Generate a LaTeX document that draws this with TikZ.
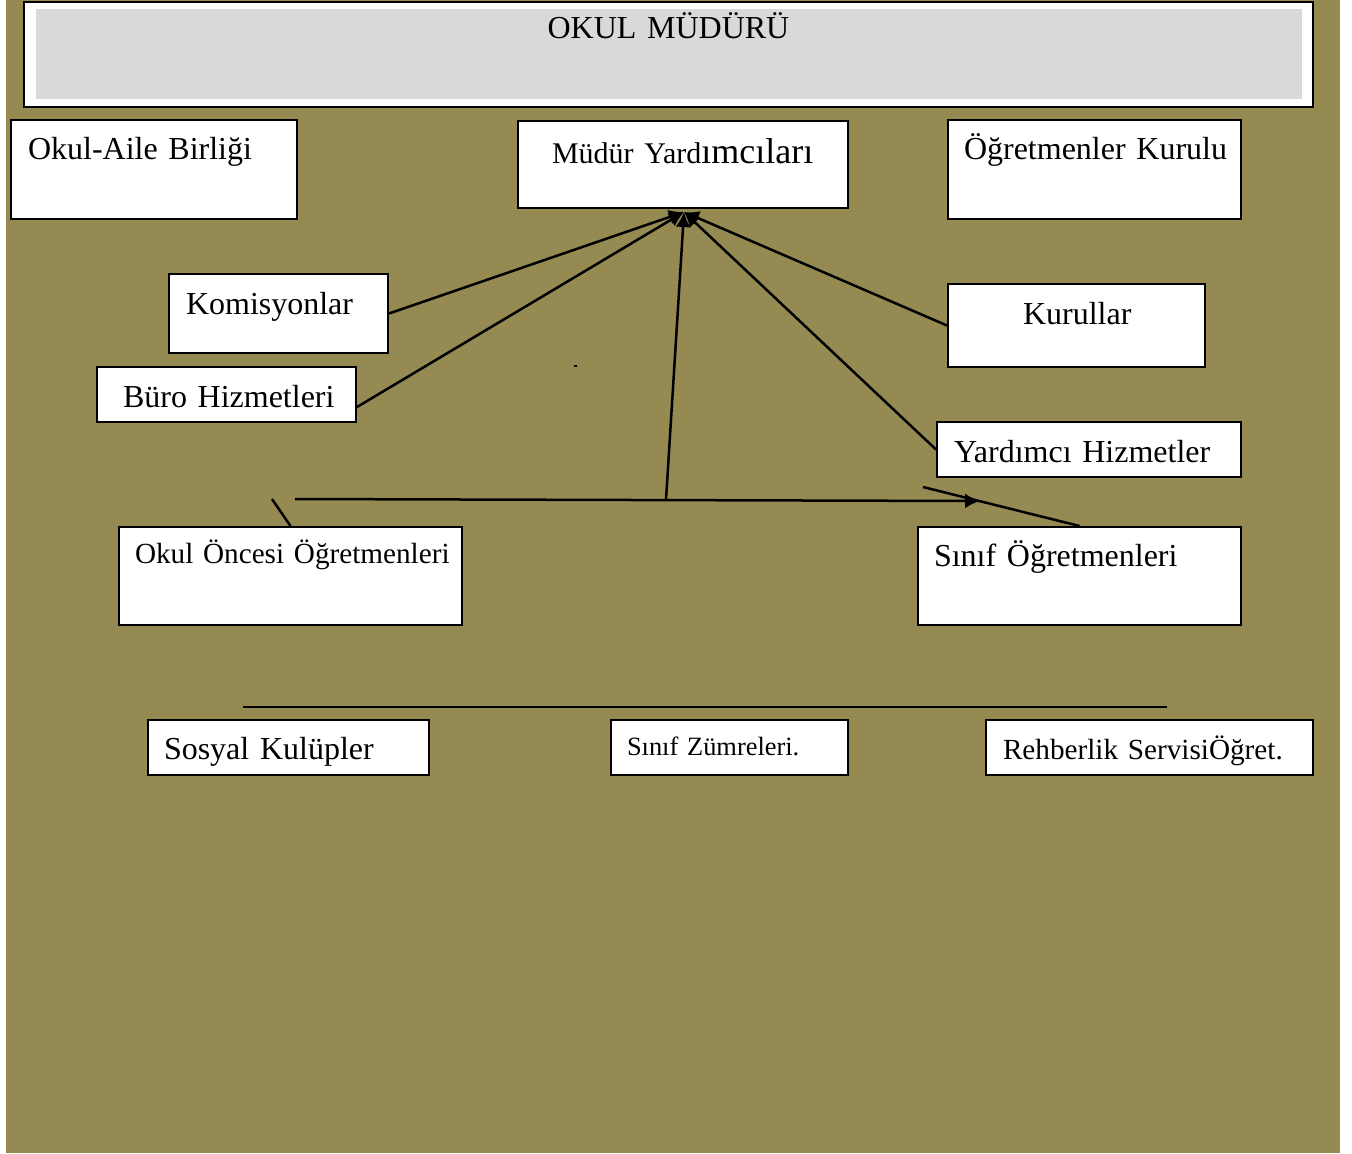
\documentclass[tikz,border=0pt]{standalone}
\usepackage{fontspec}
\setmainfont{Liberation Serif}
\usetikzlibrary{arrows.meta,positioning,calc}
\definecolor{zemin}{RGB}{148,138,82}
\definecolor{gri}{RGB}{217,217,217}

\begin{document}
\begin{tikzpicture}[x=0.5pt, y=-0.5pt,
        kutu/.style={draw, fill=white, line width=1pt, anchor=north west, inner sep=0pt, align=left, font=\fontsize{16}{19}\selectfont},
        girinti/.style={execute at begin node={\hspace*{#1}}},
        bag/.style={line width=1.25pt},
        ok/.style={bag, -{Latex[length=7.5pt,width=7.5pt]}}
    ]
        \useasboundingbox (0,0) rectangle (1352,1153);
        \fill[zemin] (6,0) rectangle (1340,1153);

        % ust kutu
        \node [kutu, text width=644.5pt, align=center, text height=18.25pt, text depth=34.25pt,
            path picture={\fill[gri] ([xshift=6pt,yshift=-3.5pt]path picture bounding box.north west) rectangle ([xshift=-5.5pt,yshift=4pt]path picture bounding box.south east);}]
            (mudur) at (23,1) {OKUL MÜDÜRÜ};

        \node [kutu, girinti=8.5pt, text width=143pt, text height=19.5pt, text depth=30pt] (aile) at (10,119) {Okul-Aile Birliği};
        \node [kutu, girinti=17pt, text width=165pt, text height=21pt, text depth=22.5pt] (yard) at (517,120)
            {{\fontsize{15}{18}\selectfont Müdür Yard}{\fontsize{18}{21}\selectfont ımcıları}};
        \node [kutu, girinti=8pt, text width=146.5pt, text height=19.5pt, text depth=30pt] (kurulu) at (947,119) {Öğretmenler Kurulu};

        \node [kutu, girinti=8.5pt, text width=109.5pt, text height=20pt, text depth=19.5pt] (komis) at (168,273) {Komisyonlar};
        \node [kutu, girinti=13pt, text width=129.5pt, text height=20pt, text depth=7.5pt] (buro) at (96,366) {Büro Hizmetleri};
        \node [kutu, girinti=37.5pt, text width=128.5pt, text height=20pt, text depth=21.5pt] (kurul) at (947,283) {Kurullar};
        \node [kutu, girinti=8.5pt, text width=152pt, text height=20pt, text depth=7.5pt] (yhiz) at (936,421) {Yardımcı Hizmetler};

        \node [kutu, girinti=8pt, text width=171.5pt, text height=18pt, text depth=31pt, font=\fontsize{14.6}{17}\selectfont] (oncesi) at (118,526) {Okul Öncesi Öğretmenleri};
        \node [kutu, girinti=8pt, text width=161.5pt, text height=19.5pt, text depth=29.5pt] (sinif) at (917,526) {Sınıf Öğretmenleri};

        \node [kutu, girinti=8pt, text width=140.5pt, text height=19.5pt, text depth=8pt] (sosyal) at (147,719) {Sosyal Kulüpler};
        \node [kutu, girinti=8pt, text width=118.5pt, text height=17.5pt, text depth=10pt, font=\fontsize{13.2}{16}\selectfont] (zumre) at (610,719) {Sınıf Zümreleri.};
        \node [kutu, girinti=8.5pt, text width=163.5pt, text height=19.5pt, text depth=8pt, font=\fontsize{14.6}{17}\selectfont] (rehber) at (985,719) {Rehberlik ServisiÖğret.};

        % baglantilar
        \coordinate (uc) at ([xshift=0.5pt,yshift=-1.5pt]yard.south);
        \coordinate (orta) at (666,499.5);
        \coordinate (yatsol) at (295,499);
        \coordinate (yatsag) at (980,501);
        \coordinate (oncesiuc) at (272,499);
        \coordinate (sinifuc) at (923,487);
        \coordinate (altsol) at (243,707);
        \coordinate (altsag) at (1167,707);

        \draw [ok] (komis.east) -- (uc);
        \draw [ok] ([yshift=-6.25pt]buro.east) -- (uc);
        \draw [ok] (kurul.west) -- (uc);
        \draw [ok] (yhiz.west) -- (uc);
        \draw [ok] (orta) -- (uc);
        \draw [ok] (yatsol) -- (yatsag);
        \draw [bag] (oncesi.north) -- (oncesiuc);
        \draw [bag] (sinif.north) -- (sinifuc);
        \draw [line width=1pt] (altsol) -- (altsag);
        \fill (574,365) rectangle (577,367);

    \end{tikzpicture}
\end{document}
